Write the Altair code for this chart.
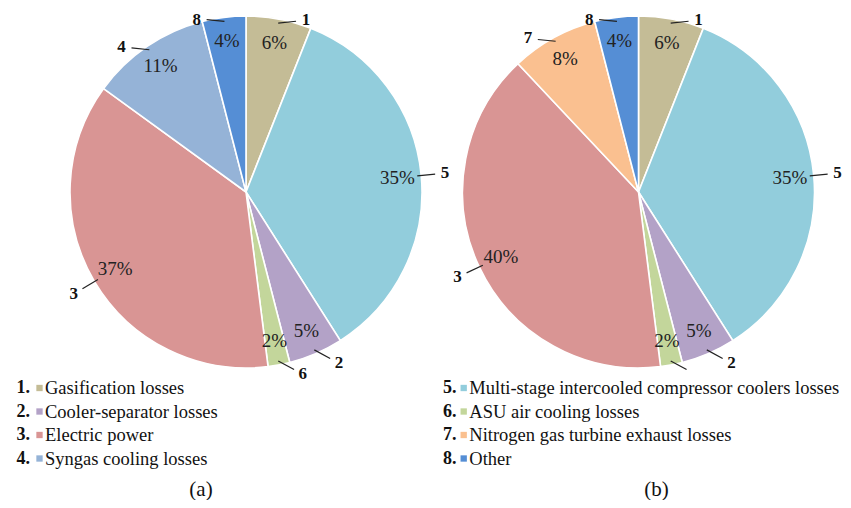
import altair as alt
import pandas as pd

# ---------------- data ----------------
categories = ["1", "2", "3", "4", "5", "6", "7", "8"]
names = [
    "Gasification losses",
    "Cooler-separator losses",
    "Electric power",
    "Syngas cooling losses",
    "Multi-stage intercooled compressor coolers losses",
    "ASU air cooling losses",
    "Nitrogen gas turbine exhaust losses",
    "Other",
]
colors = ["#C4BC96", "#B3A2C7", "#D99594", "#95B3D7",
          "#92CDDC", "#C3D69B", "#FAC090", "#558ED5"]

slices_a = ["1", "5", "2", "6", "3", "4", "8"]
values_a = [6, 35, 5, 2, 37, 11, 4]
slices_b = ["1", "5", "2", "6", "3", "7", "8"]
values_b = [6, 35, 5, 2, 40, 8, 4]

legend_a = ["1", "2", "3", "4"]
legend_b = ["5", "6", "7", "8"]
hidden_b = ["6"]          # number label hidden behind the legend in (b)
captions = ["(a)", "(b)"]

# ---------------- layout ----------------
W, H = 835, 492
R = 176
CY = 184
CX_A, CX_B = 238, 630.5
PCT_R = 152
FONT = "Liberation Serif, Times New Roman, serif"
LEG_Y0, LEG_STEP = 380, 23.5

color = alt.Color("cat:N", scale=alt.Scale(domain=categories, range=colors), legend=None)


def pie_layers(cats, vals, cx, hidden):
    df = pd.DataFrame({"cat": cats, "value": vals, "idx": list(range(len(cats)))})
    base = alt.Chart(df)
    theta = alt.Theta("value:Q", stack=True)
    order = alt.Order("idx:Q")

    arcs = base.mark_arc(outerRadius=R, stroke="white", strokeWidth=1.6).encode(
        theta=theta, color=color, order=order,
        x=alt.value(cx), y=alt.value(CY))

    pct = base.transform_calculate(pct="datum.value + '%'").mark_text(
        radius=PCT_R, font=FONT, fontSize=19, color="#222222").encode(
        theta=theta, order=order, text="pct:N",
        x=alt.value(cx), y=alt.value(CY))

    geo = (base
           .transform_window(cum="sum(value)", sort=[{"field": "idx"}], frame=[None, 0])
           .transform_joinaggregate(total="sum(value)")
           .transform_calculate(mid="2*PI*(datum.cum - datum.value/2)/datum.total")
           .transform_calculate(ux="sin(datum.mid)", uy="-cos(datum.mid)")
           .transform_calculate(top="datum.uy < -0.5", bottom="datum.uy > 0.85")
           .transform_calculate(
               dx="datum.top ? (datum.ux >= 0 ? 0.99 : -0.99)"
                  " : (datum.bottom ? (datum.ux >= 0 ? 0.88 : -0.88) : datum.ux)",
               dy="datum.top ? -0.1 : (datum.bottom ? 0.48 : datum.uy)")
           .transform_calculate(x1=f"{cx} + {R - 4}*datum.ux",
                                y1=f"{CY} + {R - 4}*datum.uy")
           .transform_calculate(x2="datum.x1 + 18*datum.dx",
                                y2="datum.y1 + 18*datum.dy",
                                lx="datum.x1 + 28*datum.dx",
                                ly="max(datum.y1 + 28*datum.dy, 11.5)"))

    lines = geo.mark_rule(color="#222222", strokeWidth=1.2).encode(
        x=alt.X("x1:Q", scale=None, axis=None),
        y=alt.Y("y1:Q", scale=None, axis=None),
        x2="x2:Q", y2="y2:Q")

    hid = "[" + ",".join(f"'{h}'" for h in hidden) + "]"
    labels = geo.transform_filter(f"indexof({hid}, datum.cat) < 0").mark_text(
        font=FONT, fontSize=17, fontWeight="bold", color="#111111").encode(
        x=alt.X("lx:Q", scale=None, axis=None),
        y=alt.Y("ly:Q", scale=None, axis=None),
        text="cat:N")
    return [arcs, pct, lines, labels]


def legend_layers(cats, num_x, sq_x, txt_x):
    df = pd.DataFrame({"cat": cats,
                       "name": [names[categories.index(c)] for c in cats],
                       "row": list(range(len(cats)))})
    base = alt.Chart(df).transform_calculate(
        ly=f"{LEG_Y0} + datum.row*{LEG_STEP}", num="datum.cat + '.'")
    yenc = alt.Y("ly:Q", scale=None, axis=None)
    nums = base.mark_text(align="right", font=FONT, fontSize=18, fontWeight="bold",
                          color="#111111").encode(x=alt.value(num_x), y=yenc, text="num:N")
    squares = base.mark_square(size=40, opacity=1).encode(x=alt.value(sq_x), y=yenc, color=color)
    texts = base.mark_text(align="left", font=FONT, fontSize=18.5,
                           color="#111111").encode(x=alt.value(txt_x), y=yenc, text="name:N")
    return [nums, squares, texts]


cap_base = alt.Chart(pd.DataFrame({"c": captions}))
cap_a = cap_base.transform_filter(f"datum.c == '{captions[0]}'").mark_text(
    font=FONT, fontSize=21, baseline="alphabetic", color="#111111").encode(
    x=alt.value(193), y=alt.value(487.5), text="c:N")
cap_b = cap_base.transform_filter(f"datum.c == '{captions[1]}'").mark_text(
    font=FONT, fontSize=21, baseline="alphabetic", color="#111111").encode(
    x=alt.value(648.5), y=alt.value(487.5), text="c:N")

layers = (pie_layers(slices_a, values_a, CX_A, [])
          + pie_layers(slices_b, values_b, CX_B, hidden_b)
          + legend_layers(legend_a, 22, 31.5, 37)
          + legend_layers(legend_b, 448.5, 455.7, 461.3)
          + [cap_a, cap_b])

chart = alt.layer(*layers).properties(
    width=W, height=H, padding=0,
    autosize=alt.AutoSizeParams(type="none"),
).configure_view(stroke=None)

chart.save("out.html", embed_options={"renderer": "svg", "actions": False})
